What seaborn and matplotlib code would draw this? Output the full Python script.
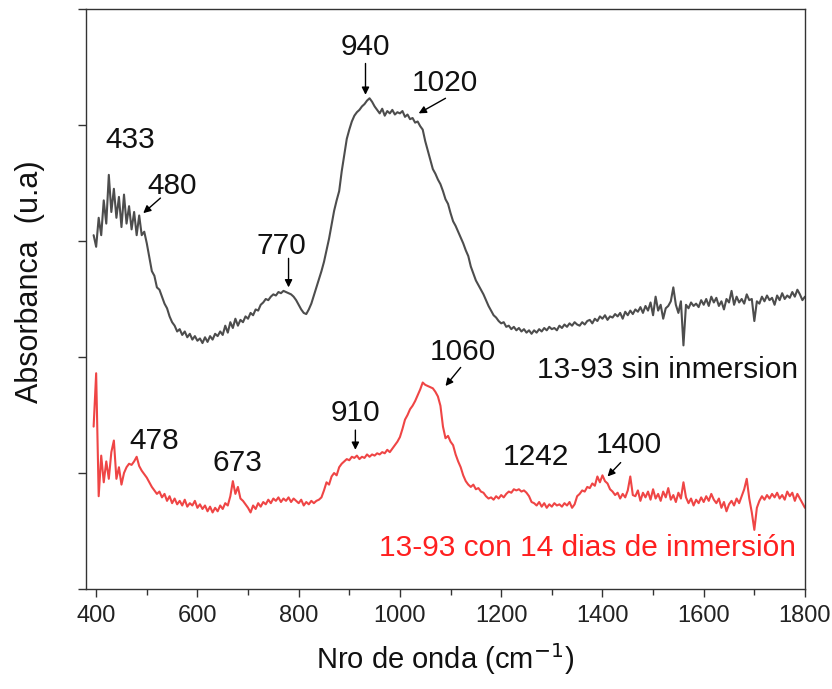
import numpy as np
import pandas as pd
import matplotlib
matplotlib.use("Agg")
import matplotlib.pyplot as plt
from matplotlib.ticker import MultipleLocator, NullFormatter
import seaborn as sns

# Wavenumber grid (cm^-1), sampled every 5 cm^-1
wavenumber = np.arange(395, 1805, 5)

# 13-93 glass, before immersion
abs_sin = [
    3.05, 2.95, 3.20, 3.05, 3.35, 3.15, 3.57, 3.25, 3.45, 3.20,  # 395-440
    3.38, 3.12, 3.40, 3.15, 3.30, 3.10, 3.25, 3.05, 3.22, 3.05,  # 445-490
    3.08, 2.98, 2.86, 2.74, 2.70, 2.60, 2.58, 2.52, 2.46, 2.42,  # 495-540
    2.35, 2.30, 2.27, 2.22, 2.24, 2.19, 2.22, 2.17, 2.20, 2.15,  # 545-590
    2.18, 2.14, 2.16, 2.12, 2.17, 2.13, 2.18, 2.15, 2.20, 2.18,  # 595-640
    2.22, 2.19, 2.27, 2.21, 2.30, 2.25, 2.33, 2.27, 2.32, 2.30,  # 645-690
    2.35, 2.33, 2.38, 2.36, 2.41, 2.40, 2.45, 2.47, 2.50, 2.49,  # 695-740
    2.52, 2.54, 2.53, 2.56, 2.55, 2.57, 2.56, 2.55, 2.54, 2.52,  # 745-790
    2.49, 2.45, 2.41, 2.38, 2.37, 2.41, 2.46, 2.53, 2.60, 2.67,  # 795-840
    2.74, 2.82, 2.92, 3.02, 3.14, 3.26, 3.35, 3.43, 3.60, 3.74,  # 845-890
    3.88, 3.96, 4.03, 4.08, 4.11, 4.13, 4.16, 4.18, 4.21, 4.23,  # 895-940
    4.20, 4.16, 4.13, 4.10, 4.14, 4.08, 4.12, 4.10, 4.13, 4.09,  # 945-990
    4.11, 4.10, 4.12, 4.07, 4.09, 4.05, 4.06, 4.02, 4.03, 3.99,  # 995-1040
    3.96, 3.86, 3.78, 3.70, 3.62, 3.58, 3.53, 3.49, 3.43, 3.36,  # 1045-1090
    3.32, 3.24, 3.17, 3.13, 3.08, 3.03, 2.98, 2.92, 2.87, 2.78,  # 1095-1140
    2.72, 2.66, 2.62, 2.58, 2.54, 2.49, 2.44, 2.40, 2.36, 2.34,  # 1145-1190
    2.31, 2.29, 2.30, 2.26, 2.27, 2.24, 2.26, 2.23, 2.25, 2.22,  # 1195-1240
    2.24, 2.21, 2.23, 2.20, 2.23, 2.21, 2.24, 2.22, 2.25, 2.23,  # 1245-1290
    2.26, 2.24, 2.25, 2.23, 2.27, 2.25, 2.28, 2.26, 2.29, 2.27,  # 1295-1340
    2.30, 2.28, 2.27, 2.30, 2.28, 2.31, 2.32, 2.29, 2.33, 2.31,  # 1345-1390
    2.35, 2.33, 2.36, 2.32, 2.35, 2.34, 2.37, 2.35, 2.38, 2.33,  # 1395-1440
    2.39, 2.36, 2.40, 2.37, 2.41, 2.39, 2.43, 2.38, 2.44, 2.40,  # 1445-1490
    2.47, 2.36, 2.52, 2.40, 2.45, 2.33, 2.42, 2.44, 2.48, 2.60,  # 1495-1540
    2.45, 2.38, 2.48, 2.10, 2.45, 2.42, 2.47, 2.44, 2.46, 2.43,  # 1545-1590
    2.49, 2.45, 2.50, 2.44, 2.52, 2.47, 2.51, 2.44, 2.48, 2.41,  # 1595-1640
    2.50, 2.47, 2.57, 2.45, 2.52, 2.47, 2.50, 2.46, 2.54, 2.49,  # 1645-1690
    2.50, 2.31, 2.48, 2.46, 2.52, 2.48, 2.53, 2.49, 2.51, 2.45,  # 1695-1740
    2.53, 2.49, 2.55, 2.50, 2.53, 2.51, 2.56, 2.52, 2.58, 2.54,  # 1745-1790
    2.49, 2.52,                                                  # 1795-1800
]

# 13-93 glass after 14 days of immersion
abs_con = [
    1.40, 1.86, 0.80, 1.15, 0.92, 1.10, 0.95, 1.18, 1.28, 0.95,  # 395-440
    1.05, 0.90, 1.00, 1.05, 1.08, 1.07, 1.10, 1.14, 1.06, 1.02,  # 445-490
    0.99, 0.96, 0.92, 0.88, 0.85, 0.82, 0.84, 0.79, 0.82, 0.76,  # 495-540
    0.80, 0.74, 0.78, 0.73, 0.76, 0.72, 0.77, 0.71, 0.74, 0.72,  # 545-590
    0.76, 0.70, 0.73, 0.69, 0.72, 0.67, 0.71, 0.66, 0.70, 0.67,  # 595-640
    0.72, 0.69, 0.74, 0.72, 0.80, 0.93, 0.82, 0.88, 0.78, 0.76,  # 645-690
    0.73, 0.70, 0.66, 0.72, 0.69, 0.74, 0.71, 0.75, 0.73, 0.77,  # 695-740
    0.74, 0.78, 0.76, 0.79, 0.75, 0.78, 0.76, 0.79, 0.75, 0.78,  # 745-790
    0.76, 0.74, 0.77, 0.72, 0.75, 0.73, 0.76, 0.74, 0.76, 0.77,  # 795-840
    0.79, 0.85, 0.92, 0.90, 0.97, 1.00, 0.98, 1.05, 1.08, 1.10,  # 845-890
    1.12, 1.11, 1.14, 1.13, 1.15, 1.12, 1.14, 1.13, 1.16, 1.14,  # 895-940
    1.16, 1.15, 1.17, 1.16, 1.18, 1.17, 1.20, 1.18, 1.21, 1.24,  # 945-990
    1.27, 1.31, 1.38, 1.46, 1.50, 1.55, 1.58, 1.62, 1.67, 1.72,  # 995-1040
    1.78, 1.76, 1.75, 1.74, 1.73, 1.70, 1.66, 1.58, 1.40, 1.30,  # 1045-1090
    1.32, 1.27, 1.24, 1.16, 1.10, 1.05, 0.98, 0.93, 0.90, 0.88,  # 1095-1140
    0.90, 0.86, 0.87, 0.84, 0.83, 0.80, 0.78, 0.79, 0.77, 0.80,  # 1145-1190
    0.78, 0.81, 0.79, 0.82, 0.84, 0.83, 0.86, 0.85, 0.86, 0.84,  # 1195-1240
    0.85, 0.83, 0.80, 0.75, 0.74, 0.72, 0.75, 0.71, 0.74, 0.70,  # 1245-1290
    0.73, 0.71, 0.74, 0.72, 0.73, 0.71, 0.74, 0.72, 0.75, 0.70,  # 1295-1340
    0.73, 0.80, 0.82, 0.85, 0.84, 0.88, 0.87, 0.91, 0.89, 0.97,  # 1345-1390
    0.92, 0.98, 0.93, 0.91, 0.86, 0.84, 0.81, 0.83, 0.78, 0.82,  # 1395-1440
    0.79, 0.85, 0.97, 0.81, 0.80, 0.85, 0.76, 0.83, 0.79, 0.84,  # 1445-1490
    0.77, 0.86, 0.78, 0.82, 0.76, 0.84, 0.79, 0.87, 0.77, 0.81,  # 1495-1540
    0.75, 0.83, 0.78, 0.92, 0.79, 0.74, 0.78, 0.72, 0.77, 0.74,  # 1545-1590
    0.79, 0.75, 0.80, 0.76, 0.82, 0.77, 0.74, 0.78, 0.70, 0.75,  # 1595-1640
    0.67, 0.73, 0.76, 0.72, 0.78, 0.74, 0.80, 0.86, 0.95, 0.78,  # 1645-1690
    0.66, 0.51, 0.70, 0.76, 0.80, 0.77, 0.81, 0.78, 0.82, 0.79,  # 1695-1740
    0.83, 0.78, 0.81, 0.77, 0.84, 0.80, 0.83, 0.76, 0.82, 0.78,  # 1745-1790
    0.74, 0.70,                                                  # 1795-1800
]

x_ticks = [400, 600, 800, 1000, 1200, 1400, 1600, 1800]

# Band labels: (text, text position, arrow tail, arrow tip) ; None = no arrow
bands_sin = [
    ("433", (467, 3.87), None, None),
    ("480", (550, 3.47), (527, 3.37), (493, 3.24)),
    ("770", (766, 2.96), (780, 2.85), (780, 2.60)),
    ("940", (932, 4.67), (932, 4.53), (932, 4.26)),
    ("1020", (1088, 4.36), (1090, 4.23), (1037, 4.10)),
]
bands_con = [
    ("478", (515, 1.28), None, None),
    ("673", (679, 1.09), None, None),
    ("910", (912, 1.52), (912, 1.37), (912, 1.20)),
    ("1060", (1124, 2.04), (1120, 1.91), (1090, 1.75)),
    ("1242", (1268, 1.14), None, None),
    ("1400", (1452, 1.24), (1436, 1.09), (1410, 0.97)),
]

df = pd.concat([
    pd.DataFrame({"wn": wavenumber, "A": abs_sin, "muestra": "sin"}),
    pd.DataFrame({"wn": wavenumber, "A": abs_con, "muestra": "con"}),
])

sns.set_style("ticks")
plt.rcParams["font.family"] = ["Liberation Sans", "DejaVu Sans"]

fig = plt.figure(figsize=(8.32, 6.89), dpi=100)
ax = fig.add_axes([0.1034, 0.1451, 0.8641, 0.8419])

sns.lineplot(data=df, x="wn", y="A", hue="muestra",
             palette={"sin": "#4d4d4d", "con": "#ef4545"},
             linewidth=1.5, legend=False, ax=ax, estimator=None, sort=False)

ax.set_xlim(380, 1800)
ax.set_ylim(0, 5)
ax.set_xticks(x_ticks)
ax.xaxis.set_minor_locator(MultipleLocator(100))
ax.yaxis.set_major_locator(MultipleLocator(1))
ax.yaxis.set_major_formatter(NullFormatter())
ax.tick_params(axis="both", which="major", direction="out", length=5.5,
               width=1.0, color="#333333", labelsize=17, labelcolor="#222222")
ax.tick_params(axis="x", which="minor", direction="out", length=4,
               width=1.0, color="#333333")
ax.tick_params(axis="x", pad=6)
for s in ax.spines.values():
    s.set_color("#333333")
    s.set_linewidth(1.0)

ax.set_xlabel("Nro de onda (cm$^{-1}$)", fontsize=21, labelpad=10, color="#111111")
ax.set_ylabel("Absorbanca  (u.a)", fontsize=22, color="#111111")
ax.yaxis.set_label_coords(-0.057, 0.53)

arrow_kw = dict(arrowstyle="-|>", color="black", lw=1.0, mutation_scale=11,
                shrinkA=0, shrinkB=0)
for label, pos, tail, tip in bands_sin + bands_con:
    ax.text(pos[0], pos[1], label, ha="center", va="center", fontsize=21.5,
            color="#111111")
    if tip is not None:
        ax.annotate("", xy=tip, xytext=tail, arrowprops=arrow_kw)

ax.text(1786, 1.89, "13-93 sin inmersion", ha="right", va="center",
        fontsize=21.5, color="#111111")
ax.text(1782, 0.35, "13-93 con 14 dias de inmersión", ha="right", va="center",
        fontsize=21.5, color="#ff2020")

fig.savefig("out.png", dpi=100)
